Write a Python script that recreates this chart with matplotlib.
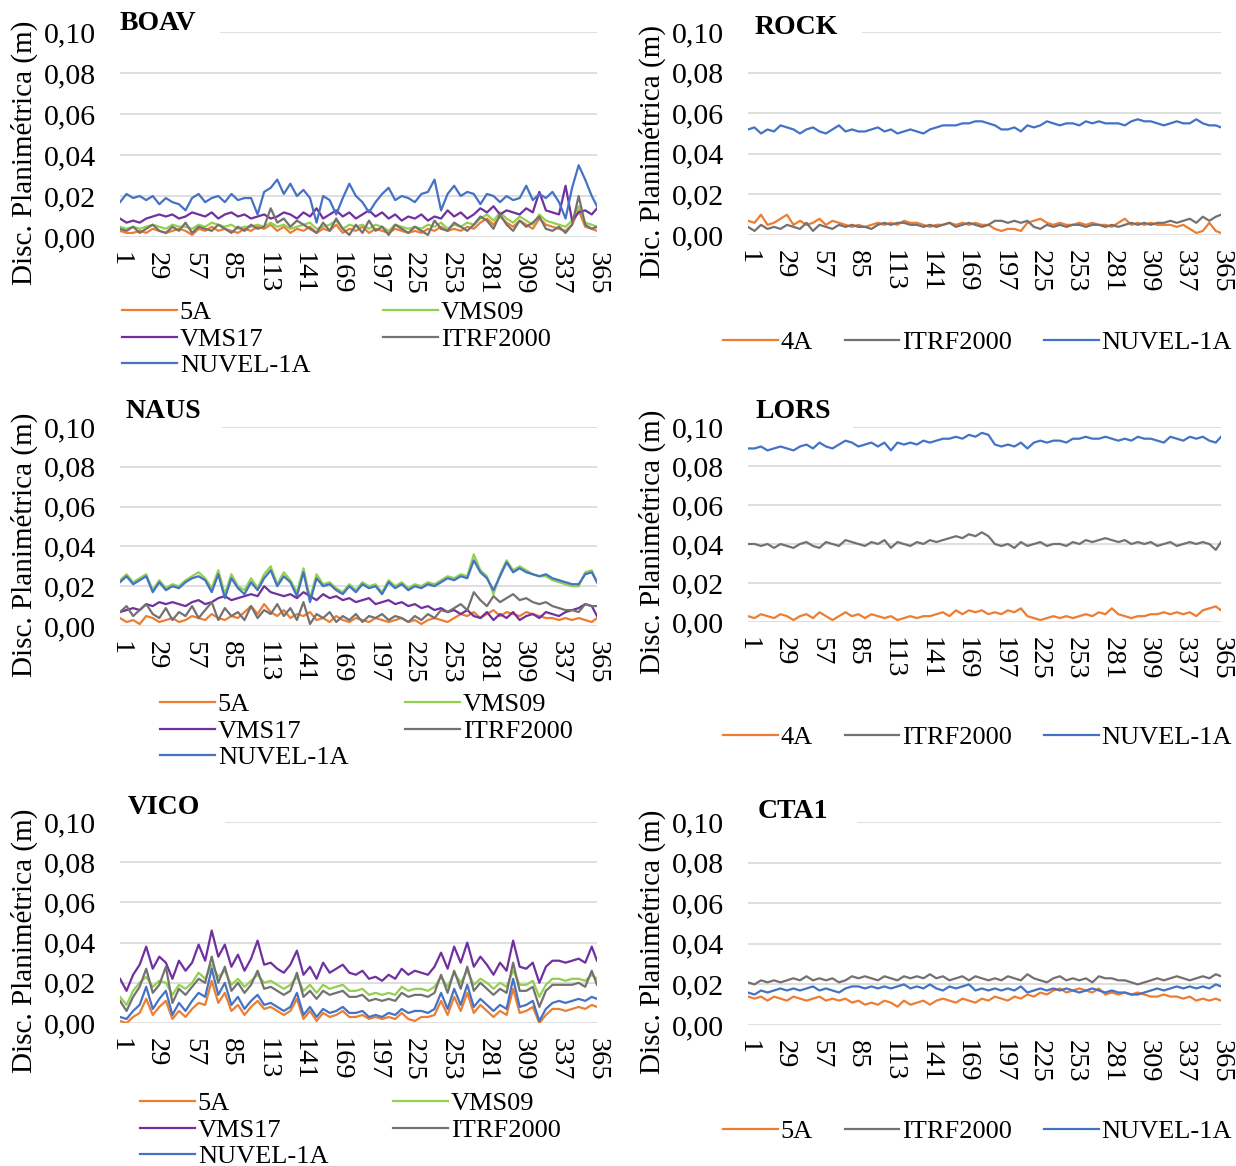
import matplotlib
matplotlib.use('Agg')
import matplotlib.pyplot as plt
from matplotlib.patches import Rectangle
import numpy as np

plt.rcParams['font.family'] = ['Liberation Serif', 'DejaVu Serif']

W, H = 1236, 1166

# sampled days of the year and the tick days shown on the x axis
days = list(range(1, 362, 5)) + [365]
tick_days = list(range(1, 366, 28))
y_ticks = [0.0, 0.02, 0.04, 0.06, 0.08, 0.10]

# all series in millimetres
boav_5a = [3, 2, 2, 3, 2, 4, 3, 2, 3, 4,
           3, 1, 4, 3, 5, 3, 4, 3, 2, 4,
           3, 5, 4, 6, 3, 5, 2, 4, 3, 5,
           2, 4, 3, 6, 2, 4, 3, 5, 2, 4,
           3, 2, 4, 3, 2, 3, 2, 4, 3, 5,
           3, 4, 3, 5, 4, 7, 9, 6, 10, 7,
           5, 8, 6, 4, 9, 6, 5, 4, 3, 6,
           13, 5, 4, 3]
boav_vms09 = [5, 4, 5, 4, 5, 6, 5, 4, 6, 5,
              5, 4, 6, 5, 7, 6, 5, 6, 4, 5,
              5, 6, 5, 7, 5, 6, 4, 5, 6, 7,
              4, 5, 6, 8, 4, 6, 5, 6, 4, 6,
              5, 3, 6, 5, 4, 5, 4, 6, 5, 7,
              4, 6, 5, 7, 6, 9, 11, 8, 12, 9,
              7, 10, 8, 6, 11, 8, 7, 6, 5, 8,
              15, 7, 6, 5]
boav_vms17 = [9, 7, 8, 7, 9, 10, 11, 10, 11, 9,
              10, 12, 11, 10, 12, 9, 11, 12, 10, 11,
              9, 10, 11, 9, 10, 12, 11, 9, 12, 10,
              14, 9, 11, 13, 10, 12, 9, 11, 13, 10,
              12, 9, 11, 8, 10, 9, 11, 8, 10, 9,
              13, 10, 12, 9, 11, 14, 12, 15, 11, 13,
              12, 11, 14, 12, 22, 13, 12, 11, 25, 8,
              12, 13, 11, 14]
boav_itrf = [4, 3, 5, 2, 4, 6, 3, 2, 5, 3,
             7, 2, 5, 4, 3, 6, 4, 2, 5, 3,
             6, 4, 5, 14, 7, 9, 5, 8, 6, 4,
             2, 7, 3, 9, 4, 1, 6, 2, 8, 3,
             5, 1, 6, 4, 2, 5, 3, 1, 8, 4,
             3, 7, 5, 3, 6, 10, 8, 4, 11, 6,
             3, 8, 5, 7, 10, 4, 3, 5, 2, 6,
             20, 6, 4, 5]
boav_nuvel = [17, 21, 19, 20, 18, 20, 16, 19, 17, 16,
              13, 19, 21, 17, 19, 20, 17, 21, 18, 19,
              19, 11, 22, 24, 28, 21, 26, 20, 23, 19,
              7, 20, 18, 11, 19, 26, 20, 17, 12, 17,
              21, 24, 18, 20, 19, 17, 21, 22, 28, 13,
              21, 25, 20, 22, 21, 16, 21, 20, 17, 20,
              18, 19, 25, 18, 21, 19, 22, 17, 9, 24,
              35, 28, 20, 15]

rock_4a = [7, 6, 10, 5, 6, 8, 10, 5, 7, 5,
           6, 8, 5, 7, 6, 5, 4, 5, 4, 5,
           6, 5, 6, 5, 7, 6, 6, 5, 4, 5,
           5, 6, 5, 6, 5, 6, 5, 5, 3, 2,
           3, 3, 2, 6, 7, 8, 6, 5, 6, 5,
           5, 6, 5, 6, 5, 5, 4, 6, 8, 5,
           6, 5, 6, 5, 5, 5, 4, 5, 3, 1,
           2, 6, 2, 1]
rock_itrf = [4, 2, 5, 3, 4, 3, 5, 4, 3, 6,
             2, 5, 4, 3, 5, 4, 5, 4, 4, 3,
             5, 6, 5, 6, 6, 5, 5, 4, 5, 4,
             5, 6, 4, 5, 6, 5, 4, 5, 7, 7,
             6, 7, 6, 7, 4, 3, 5, 4, 5, 4,
             5, 5, 4, 5, 5, 4, 5, 4, 5, 6,
             5, 6, 5, 6, 6, 7, 6, 7, 8, 6,
             9, 7, 9, 10]
rock_nuvel = [52, 53, 50, 52, 51, 54, 53, 52, 50, 52,
              53, 51, 50, 52, 54, 51, 52, 51, 51, 52,
              53, 51, 52, 50, 51, 52, 51, 50, 52, 53,
              54, 54, 54, 55, 55, 56, 56, 55, 54, 52,
              52, 53, 51, 54, 53, 54, 56, 55, 54, 55,
              55, 54, 56, 55, 56, 55, 55, 55, 54, 56,
              57, 56, 56, 55, 54, 55, 56, 55, 55, 57,
              55, 54, 54, 53]

naus_5a = [4, 2, 3, 1, 5, 4, 2, 3, 4, 2,
           3, 5, 4, 3, 6, 4, 3, 5, 4, 7,
           10, 6, 11, 7, 5, 8, 4, 6, 5, 7,
           3, 4, 2, 5, 3, 2, 4, 3, 2, 4,
           3, 2, 3, 4, 2, 3, 1, 3, 4, 3,
           2, 4, 6, 5, 7, 4, 6, 8, 5, 7,
           6, 5, 7, 6, 5, 4, 4, 3, 4, 3,
           4, 3, 2, 4]
naus_vms09 = [23, 26, 22, 24, 26, 18, 23, 19, 21, 20,
              23, 25, 27, 24, 19, 28, 16, 26, 20, 18,
              24, 19, 26, 30, 21, 27, 23, 17, 29, 14,
              26, 21, 22, 19, 17, 21, 18, 22, 20, 21,
              17, 23, 20, 22, 19, 21, 20, 22, 21, 23,
              25, 24, 26, 25, 36, 28, 25, 16, 26, 33,
              28, 30, 28, 26, 25, 25, 23, 22, 21, 20,
              20, 27, 28, 22]
naus_vms17 = [7, 8, 9, 8, 11, 10, 12, 11, 12, 11,
              10, 12, 13, 11, 12, 14, 15, 13, 14, 15,
              16, 15, 20, 17, 16, 15, 16, 14, 17, 15,
              13, 16, 14, 15, 13, 14, 12, 13, 14, 11,
              12, 13, 11, 12, 10, 11, 9, 10, 8, 9,
              7, 8, 6, 8, 5, 4, 7, 3, 6, 4,
              7, 3, 5, 6, 4, 7, 6, 5, 7, 8,
              9, 11, 10, 5]
naus_itrf = [7, 10, 5, 8, 11, 6, 4, 9, 3, 7,
             5, 10, 4, 8, 12, 3, 9, 5, 7, 3,
             10, 4, 8, 6, 11, 5, 9, 3, 12, 1,
             6, 4, 7, 2, 5, 3, 6, 2, 5, 4,
             6, 3, 5, 4, 2, 5, 3, 6, 4, 8,
             7, 9, 11, 8, 17, 13, 10, 15, 12, 14,
             16, 13, 14, 12, 11, 12, 10, 9, 8, 8,
             7, 11, 10, 10]
naus_nuvel = [22, 25, 21, 23, 25, 17, 22, 18, 20, 19,
              22, 24, 25, 23, 17, 26, 14, 24, 19, 16,
              22, 18, 24, 28, 20, 25, 22, 15, 27, 12,
              24, 20, 21, 18, 16, 20, 17, 21, 19, 20,
              16, 22, 19, 21, 18, 20, 19, 21, 20, 22,
              24, 23, 25, 24, 33, 27, 24, 18, 25, 32,
              27, 29, 27, 26, 25, 26, 24, 23, 22, 21,
              21, 26, 27, 22]

lors_4a = [3, 2, 4, 3, 2, 4, 3, 1, 3, 4,
           2, 5, 3, 1, 3, 5, 3, 4, 2, 4,
           3, 2, 3, 1, 2, 3, 2, 3, 3, 4,
           5, 3, 6, 4, 6, 5, 6, 4, 5, 4,
           6, 5, 7, 3, 2, 1, 2, 3, 2, 3,
           2, 3, 4, 3, 5, 4, 7, 4, 3, 2,
           3, 3, 4, 4, 5, 4, 5, 4, 5, 3,
           6, 7, 8, 6]
lors_itrf = [40, 40, 39, 40, 38, 40, 39, 38, 40, 41,
             39, 38, 41, 40, 39, 42, 41, 40, 39, 41,
             40, 42, 38, 41, 40, 39, 41, 40, 42, 41,
             42, 43, 44, 43, 45, 44, 46, 44, 40, 39,
             40, 38, 41, 39, 40, 41, 39, 40, 40, 39,
             41, 40, 42, 41, 42, 43, 42, 41, 42, 40,
             41, 40, 41, 39, 40, 41, 39, 40, 41, 40,
             41, 40, 37, 41]
lors_nuvel = [89, 89, 90, 88, 89, 90, 89, 88, 90, 91,
              89, 92, 90, 89, 91, 93, 92, 90, 91, 92,
              90, 92, 88, 92, 91, 92, 91, 93, 92, 93,
              94, 94, 95, 94, 96, 95, 97, 96, 91, 90,
              91, 90, 92, 89, 92, 93, 92, 93, 93, 92,
              94, 94, 95, 94, 94, 95, 94, 93, 94, 93,
              95, 94, 94, 93, 92, 95, 94, 93, 95, 94,
              95, 93, 92, 95]

vico_5a = [1, 0, 3, 5, 12, 4, 8, 11, 2, 6,
           3, 7, 10, 9, 21, 10, 15, 6, 9, 4,
           8, 11, 7, 8, 6, 4, 6, 12, 2, 6,
           1, 5, 3, 4, 6, 3, 3, 4, 2, 3,
           2, 3, 2, 5, 2, 1, 3, 3, 4, 11,
           4, 13, 6, 15, 5, 9, 6, 3, 6, 4,
           17, 5, 6, 8, 0, 4, 7, 7, 6, 7,
           8, 7, 9, 8]
vico_vms09 = [13, 9, 16, 20, 23, 18, 21, 20, 14, 19,
              17, 20, 25, 22, 29, 23, 26, 19, 22, 18,
              21, 24, 20, 21, 19, 17, 19, 23, 16, 19,
              15, 19, 17, 18, 19, 16, 16, 17, 14, 15,
              14, 15, 14, 18, 16, 17, 17, 16, 18, 23,
              18, 25, 20, 26, 19, 22, 20, 17, 20, 18,
              26, 19, 19, 21, 13, 19, 22, 22, 21, 22,
              22, 21, 24, 22]
vico_vms17 = [22, 16, 24, 29, 38, 27, 33, 30, 22, 31,
              26, 30, 39, 31, 46, 33, 39, 28, 34, 26,
              32, 41, 29, 30, 27, 25, 29, 36, 24, 28,
              22, 30, 25, 27, 29, 25, 24, 26, 22, 23,
              21, 24, 22, 27, 24, 26, 25, 24, 28, 35,
              27, 38, 30, 40, 28, 33, 29, 24, 30, 26,
              41, 28, 27, 30, 20, 28, 31, 31, 30, 31,
              32, 30, 38, 31]
vico_itrf = [11, 6, 13, 18, 27, 15, 19, 28, 10, 17,
             14, 18, 22, 20, 33, 20, 28, 16, 20, 15,
             19, 26, 17, 18, 16, 14, 16, 25, 13, 16,
             12, 16, 14, 15, 16, 13, 13, 14, 11, 12,
             11, 12, 11, 15, 13, 14, 14, 13, 15, 24,
             15, 26, 17, 28, 16, 20, 17, 14, 17, 15,
             30, 16, 16, 18, 8, 16, 19, 19, 19, 19,
             20, 18, 26, 19]
vico_nuvel = [3, 2, 6, 9, 18, 7, 12, 16, 4, 10,
              6, 11, 15, 13, 27, 14, 20, 9, 13, 7,
              11, 14, 9, 10, 8, 6, 8, 15, 4, 8,
              3, 7, 5, 6, 8, 5, 5, 6, 3, 4,
              3, 5, 4, 7, 5, 6, 6, 5, 7, 15,
              7, 17, 9, 19, 8, 12, 9, 6, 9, 7,
              22, 8, 9, 11, 1, 7, 10, 11, 10, 11,
              12, 11, 13, 12]

cta1_5a = [14, 13, 14, 12, 14, 13, 12, 14, 13, 12,
           13, 14, 12, 13, 12, 13, 11, 12, 10, 11,
           10, 12, 11, 9, 12, 10, 11, 12, 10, 12,
           13, 12, 11, 13, 12, 11, 13, 12, 14, 13,
           12, 14, 13, 15, 14, 16, 15, 17, 18, 16,
           17, 18, 17, 16, 18, 15, 16, 15, 16, 15,
           16, 15, 14, 14, 15, 14, 14, 13, 14, 12,
           13, 12, 13, 12]
cta1_itrf = [21, 20, 22, 21, 22, 21, 22, 23, 22, 24,
             22, 23, 22, 23, 21, 22, 24, 23, 24, 23,
             22, 24, 23, 22, 24, 23, 24, 23, 25, 23,
             24, 22, 23, 24, 22, 24, 23, 22, 23, 22,
             24, 23, 22, 25, 23, 22, 21, 23, 24, 22,
             23, 22, 23, 21, 24, 23, 23, 22, 22, 21,
             20, 21, 22, 23, 22, 23, 24, 23, 22, 23,
             24, 23, 25, 24]
cta1_nuvel = [16, 15, 17, 16, 17, 18, 17, 18, 17, 18,
              19, 17, 18, 17, 16, 18, 19, 19, 18, 19,
              18, 19, 18, 19, 20, 18, 19, 18, 20, 18,
              17, 19, 18, 19, 20, 17, 18, 17, 18, 17,
              18, 17, 19, 16, 17, 18, 17, 18, 17, 18,
              17, 16, 17, 18, 17, 16, 17, 16, 16, 15,
              15, 16, 17, 18, 17, 18, 19, 18, 19, 18,
              19, 18, 20, 19]

ORANGE = '#ED7D31'
GREEN = '#92D050'
PURPLE = '#7030A0'
GRAY = '#767171'
BLUE = '#4472C4'
FS_X = 20.5    # x tick labels
FS_Y = 21.5    # y tick labels
FS_LAB = 21    # y label
FS_LEG = 19    # legend

# name, ylabel, plot box in px (left, right, y of 0.00, y of 0.10),
# title pos (px), where the top gridline starts (px), legend pos (px),
# columns, column spacing, series
panels = [
    ('BOAV', 'Disc. Planimétrica (m)', (120, 597, 237, 32), (120, 24), 220, (122, 313), 2, 2.75,
     [('5A', boav_5a, ORANGE), ('VMS09', boav_vms09, GREEN), ('VMS17', boav_vms17, PURPLE),
      ('ITRF2000', boav_itrf, GRAY), ('NUVEL-1A', boav_nuvel, BLUE)]),
    ('ROCK', 'Dic. Planimétrica (m)', (748, 1221, 235, 32), (755, 27), 862, (723, 343), 3, 1.2,
     [('4A', rock_4a, ORANGE), ('ITRF2000', rock_itrf, GRAY), ('NUVEL-1A', rock_nuvel, BLUE)]),
    ('NAUS', 'Disc. Planimétrica (m)', (120, 597, 626, 427), (125, 411), 222, (160, 705), 2, 2.15,
     [('5A', naus_5a, ORANGE), ('VMS09', naus_vms09, GREEN), ('VMS17', naus_vms17, PURPLE),
      ('ITRF2000', naus_itrf, GRAY), ('NUVEL-1A', naus_nuvel, BLUE)]),
    ('LORS', 'Disc. Planimétrica (m)', (748, 1221, 622, 427), (756, 412), 853, (723, 738), 3, 1.2,
     [('4A', lors_4a, ORANGE), ('ITRF2000', lors_itrf, GRAY), ('NUVEL-1A', lors_nuvel, BLUE)]),
    ('VICO', 'Disc. Planimétrica (m)', (120, 597, 1023, 822), (128, 807), 225, (140, 1104), 2, 2.45,
     [('5A', vico_5a, ORANGE), ('VMS09', vico_vms09, GREEN), ('VMS17', vico_vms17, PURPLE),
      ('ITRF2000', vico_itrf, GRAY), ('NUVEL-1A', vico_nuvel, BLUE)]),
    ('CTA1', 'Disc. Planimétrica (m)', (748, 1221, 1025, 822), (758, 812), 857, (723, 1132), 3, 1.2,
     [('5A', cta1_5a, ORANGE), ('ITRF2000', cta1_itrf, GRAY), ('NUVEL-1A', cta1_nuvel, BLUE)]),
]

fig = plt.figure(figsize=(W / 100, H / 100), dpi=100)

for name, ylab, box, tpos, grid_x0, lpos, ncol, cspace, series in panels:
    left, right, y0, y1 = box
    ax = fig.add_axes([left / W, 1 - y0 / H, (right - left) / W, (y0 - y1) / H])
    handles = []
    for label, vals, color in series:
        ln, = ax.plot(days, np.array(vals) / 1000.0, color=color, lw=1.6, label=label)
        handles.append(ln)

    ax.set_xlim(1, 365)
    ax.set_ylim(0, 0.10)
    ax.set_xticks(tick_days)
    ax.set_xticklabels([str(d) for d in tick_days], rotation=-90, va='top', ha='center')
    ax.set_yticks(y_ticks)
    ax.set_yticklabels([('%.2f' % v).replace('.', ',') for v in y_ticks])
    ax.tick_params(axis='both', length=0)
    ax.tick_params(axis='y', pad=17, labelsize=FS_Y)
    ax.tick_params(axis='x', pad=11, labelsize=FS_X)
    ax.yaxis.grid(True, color='#d9d9d9', lw=1.2)
    ax.set_axisbelow(True)
    for s in ax.spines.values():
        s.set_visible(False)

    ax.set_ylabel(ylab, fontsize=FS_LAB, va='center')
    ax.yaxis.set_label_coords(-96 / (right - left), 0.41)

    # the title sits on the top gridline, which only starts after it
    ax.add_patch(Rectangle((-0.01, 0.97), (grid_x0 - left) / (right - left) + 0.01, 0.06,
                           transform=ax.transAxes, clip_on=False, fc='white', ec='none',
                           zorder=1))
    fig.text(tpos[0] / W, 1 - tpos[1] / H, name, fontsize=20, fontweight='bold',
             ha='left', va='center')

    if ncol == 2:
        order = [0, 2, 4, 1, 3]
        handles = [handles[i] for i in order]
    ax.legend(handles=handles, labels=[h.get_label() for h in handles],
              loc='upper left', bbox_to_anchor=(lpos[0] / W, 1 - (lpos[1] - 12) / H),
              bbox_transform=fig.transFigure, ncol=ncol, frameon=False,
              fontsize=FS_LEG, borderpad=0, borderaxespad=0, handlelength=2.08,
              handletextpad=0.11, labelspacing=0.11, columnspacing=cspace)

fig.savefig('out.png', dpi=100)
